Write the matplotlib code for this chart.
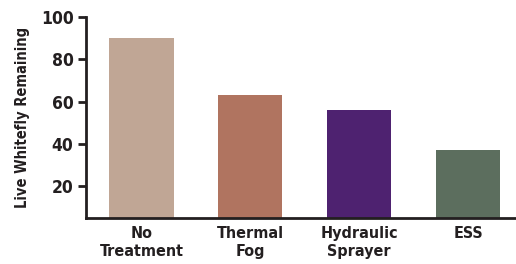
import numpy as np
import matplotlib.pyplot as plt

categories = ['No\nTreatment', 'Thermal\nFog', 'Hydraulic\nSprayer', 'ESS']
values = [90, 63, 56, 37]
colors = ['#C0A695', '#B07460', '#4E2270', '#5C6E5E']
yticks = [20, 40, 60, 80, 100]

plt.rcParams['font.family'] = ['DejaVu Sans']
plt.rcParams['font.stretch'] = 'condensed'
plt.rcParams['font.weight'] = 'bold'
ink = '#231F20'

fig = plt.figure(figsize=(5.16, 2.64), dpi=100)
ax = fig.add_axes([86 / 516, 46 / 264, 430 / 516, 201 / 264])

x = np.arange(len(categories))
ax.bar(x, values, width=0.59, color=colors)

ax.set_xlim(-0.51, 3.44)
ax.set_ylim(5, 100)
ax.set_yticks(yticks)
ax.set_xticks(x)
ax.set_xticklabels(categories, fontsize=11.5, color=ink, linespacing=1.25)
ax.tick_params(axis='y', labelsize=12.5, colors=ink, length=6, width=2, pad=3)
ax.tick_params(axis='x', length=0, pad=6)

for s in ['top', 'right']:
    ax.spines[s].set_visible(False)
for s in ['left', 'bottom']:
    ax.spines[s].set_linewidth(2)
    ax.spines[s].set_color(ink)

ax.set_ylabel('Live Whitefly Remaining', fontsize=10.5, fontweight='bold',
              color=ink, labelpad=8)

fig.savefig('out.png', dpi=100)
